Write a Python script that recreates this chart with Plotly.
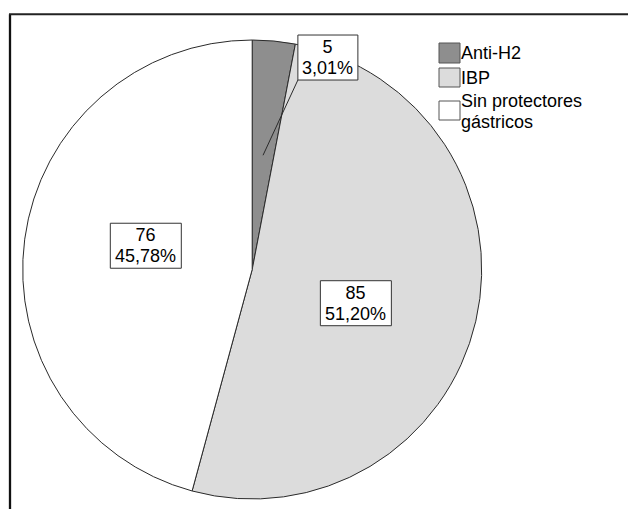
import math
import plotly.graph_objects as go

# Data
categories = ["Anti-H2", "IBP", "Sin protectores gástricos"]
legend_labels = [["Anti-H2"], ["IBP"], ["Sin protectores", "gástricos"]]
counts = [5, 85, 76]
slice_colors = ["#8e8e8e", "#dcdcdc", "#ffffff"]

# Canvas and pie geometry (pixels)
W, H = 628, 509
CX, CY, R = 252.2, 269.5, 229.5
FONT = "Liberation Sans, Arial, sans-serif"
FS = 18
PITCH = 20.6
EDGE = "#2a2a2a"


def fx(x):
    return x / W


def fy(y):
    return 1 - y / H


total = sum(counts)
shares = [c / total for c in counts]
pct_text = [f"{s * 100:.2f}".replace(".", ",") + "%" for s in shares]

fig = go.Figure(
    go.Pie(
        labels=categories,
        values=counts,
        sort=False,
        direction="clockwise",
        rotation=0,
        marker=dict(colors=slice_colors, line=dict(color=EDGE, width=1)),
        textinfo="none",
        hoverinfo="label+value+percent",
        showlegend=False,
        domain=dict(x=[fx(CX - R), fx(CX + R)], y=[fy(CY + R), fy(CY - R)]),
    )
)

shapes = []
annotations = []


def text_block(x, y, lines, anchor="center", align="center"):
    # glyphs drawn at FS; the annotation's base size sets the line pitch
    body = "<br>".join(f'<span style="font-size:{FS}px">{s}</span>' for s in lines)
    annotations.append(
        dict(
            x=fx(x), y=fy(y), xref="paper", yref="paper",
            text=body, showarrow=False, xanchor=anchor, yanchor="middle",
            align=align,
            font=dict(family=FONT, size=PITCH / 1.3 if len(lines) > 1 else FS,
                      color="#000000"),
        )
    )


# Value labels: boxed count + percentage per slice
cum = 0.0
for cnt, share, pct in zip(counts, shares, pct_text):
    mid = (cum + share / 2) * 2 * math.pi
    cum += share
    lines = [str(cnt), pct]
    bw = 11 * max(len(s) for s in lines) + 5
    bh = 45
    if share < 0.05:
        # small slice: label outside with a leader line
        ex = CX + R * math.sin(mid)
        ey = CY - R * math.cos(mid)
        bx, by = ex + 54, ey + 16.5
        tx = CX + 0.5 * R * math.sin(mid)
        ty = CY - 0.5 * R * math.cos(mid)
        shapes.append(dict(type="line", xref="paper", yref="paper",
                           x0=fx(tx), y0=fy(ty), x1=fx(bx - bw / 2), y1=fy(by + bh / 2),
                           line=dict(color=EDGE, width=1)))
    else:
        a = mid + math.radians(5)
        bx = CX + 0.475 * R * math.sin(a)
        by = CY - 0.475 * R * math.cos(a)
    shapes.append(dict(type="rect", xref="paper", yref="paper",
                       x0=fx(bx - bw / 2), x1=fx(bx + bw / 2),
                       y0=fy(by - bh / 2), y1=fy(by + bh / 2),
                       fillcolor="#ffffff", line=dict(color="#333333", width=1)))
    text_block(bx, by, lines)

# Legend
sw_x0, sw_x1 = 439, 460
sw_tops = [43, 68, 101]
sw_h = [20, 19, 19]
text_y = [53.5, 77.5, 111.0]
for col, top, h, yy, lab in zip(slice_colors, sw_tops, sw_h, text_y, legend_labels):
    shapes.append(dict(type="rect", xref="paper", yref="paper",
                       x0=fx(sw_x0), x1=fx(sw_x1), y0=fy(top + h), y1=fy(top),
                       fillcolor=col, line=dict(color="#555555", width=1)))
    text_block(459, yy, lab, anchor="left", align="left")

# Outer frame (top and left edges)
shapes.append(dict(type="line", xref="paper", yref="paper",
                   x0=fx(10), y0=fy(H + 2), x1=fx(10), y1=fy(14.3),
                   line=dict(color="#111111", width=2.3)))
shapes.append(dict(type="line", xref="paper", yref="paper",
                   x0=fx(9), y0=fy(14.3), x1=fx(W + 2), y1=fy(14.3),
                   line=dict(color="#222222", width=2)))

fig.update_layout(
    width=W, height=H,
    margin=dict(l=0, r=0, t=0, b=0),
    paper_bgcolor="#ffffff",
    plot_bgcolor="#ffffff",
    shapes=shapes,
    annotations=annotations,
    showlegend=False,
)

fig.write_html("out.html")
